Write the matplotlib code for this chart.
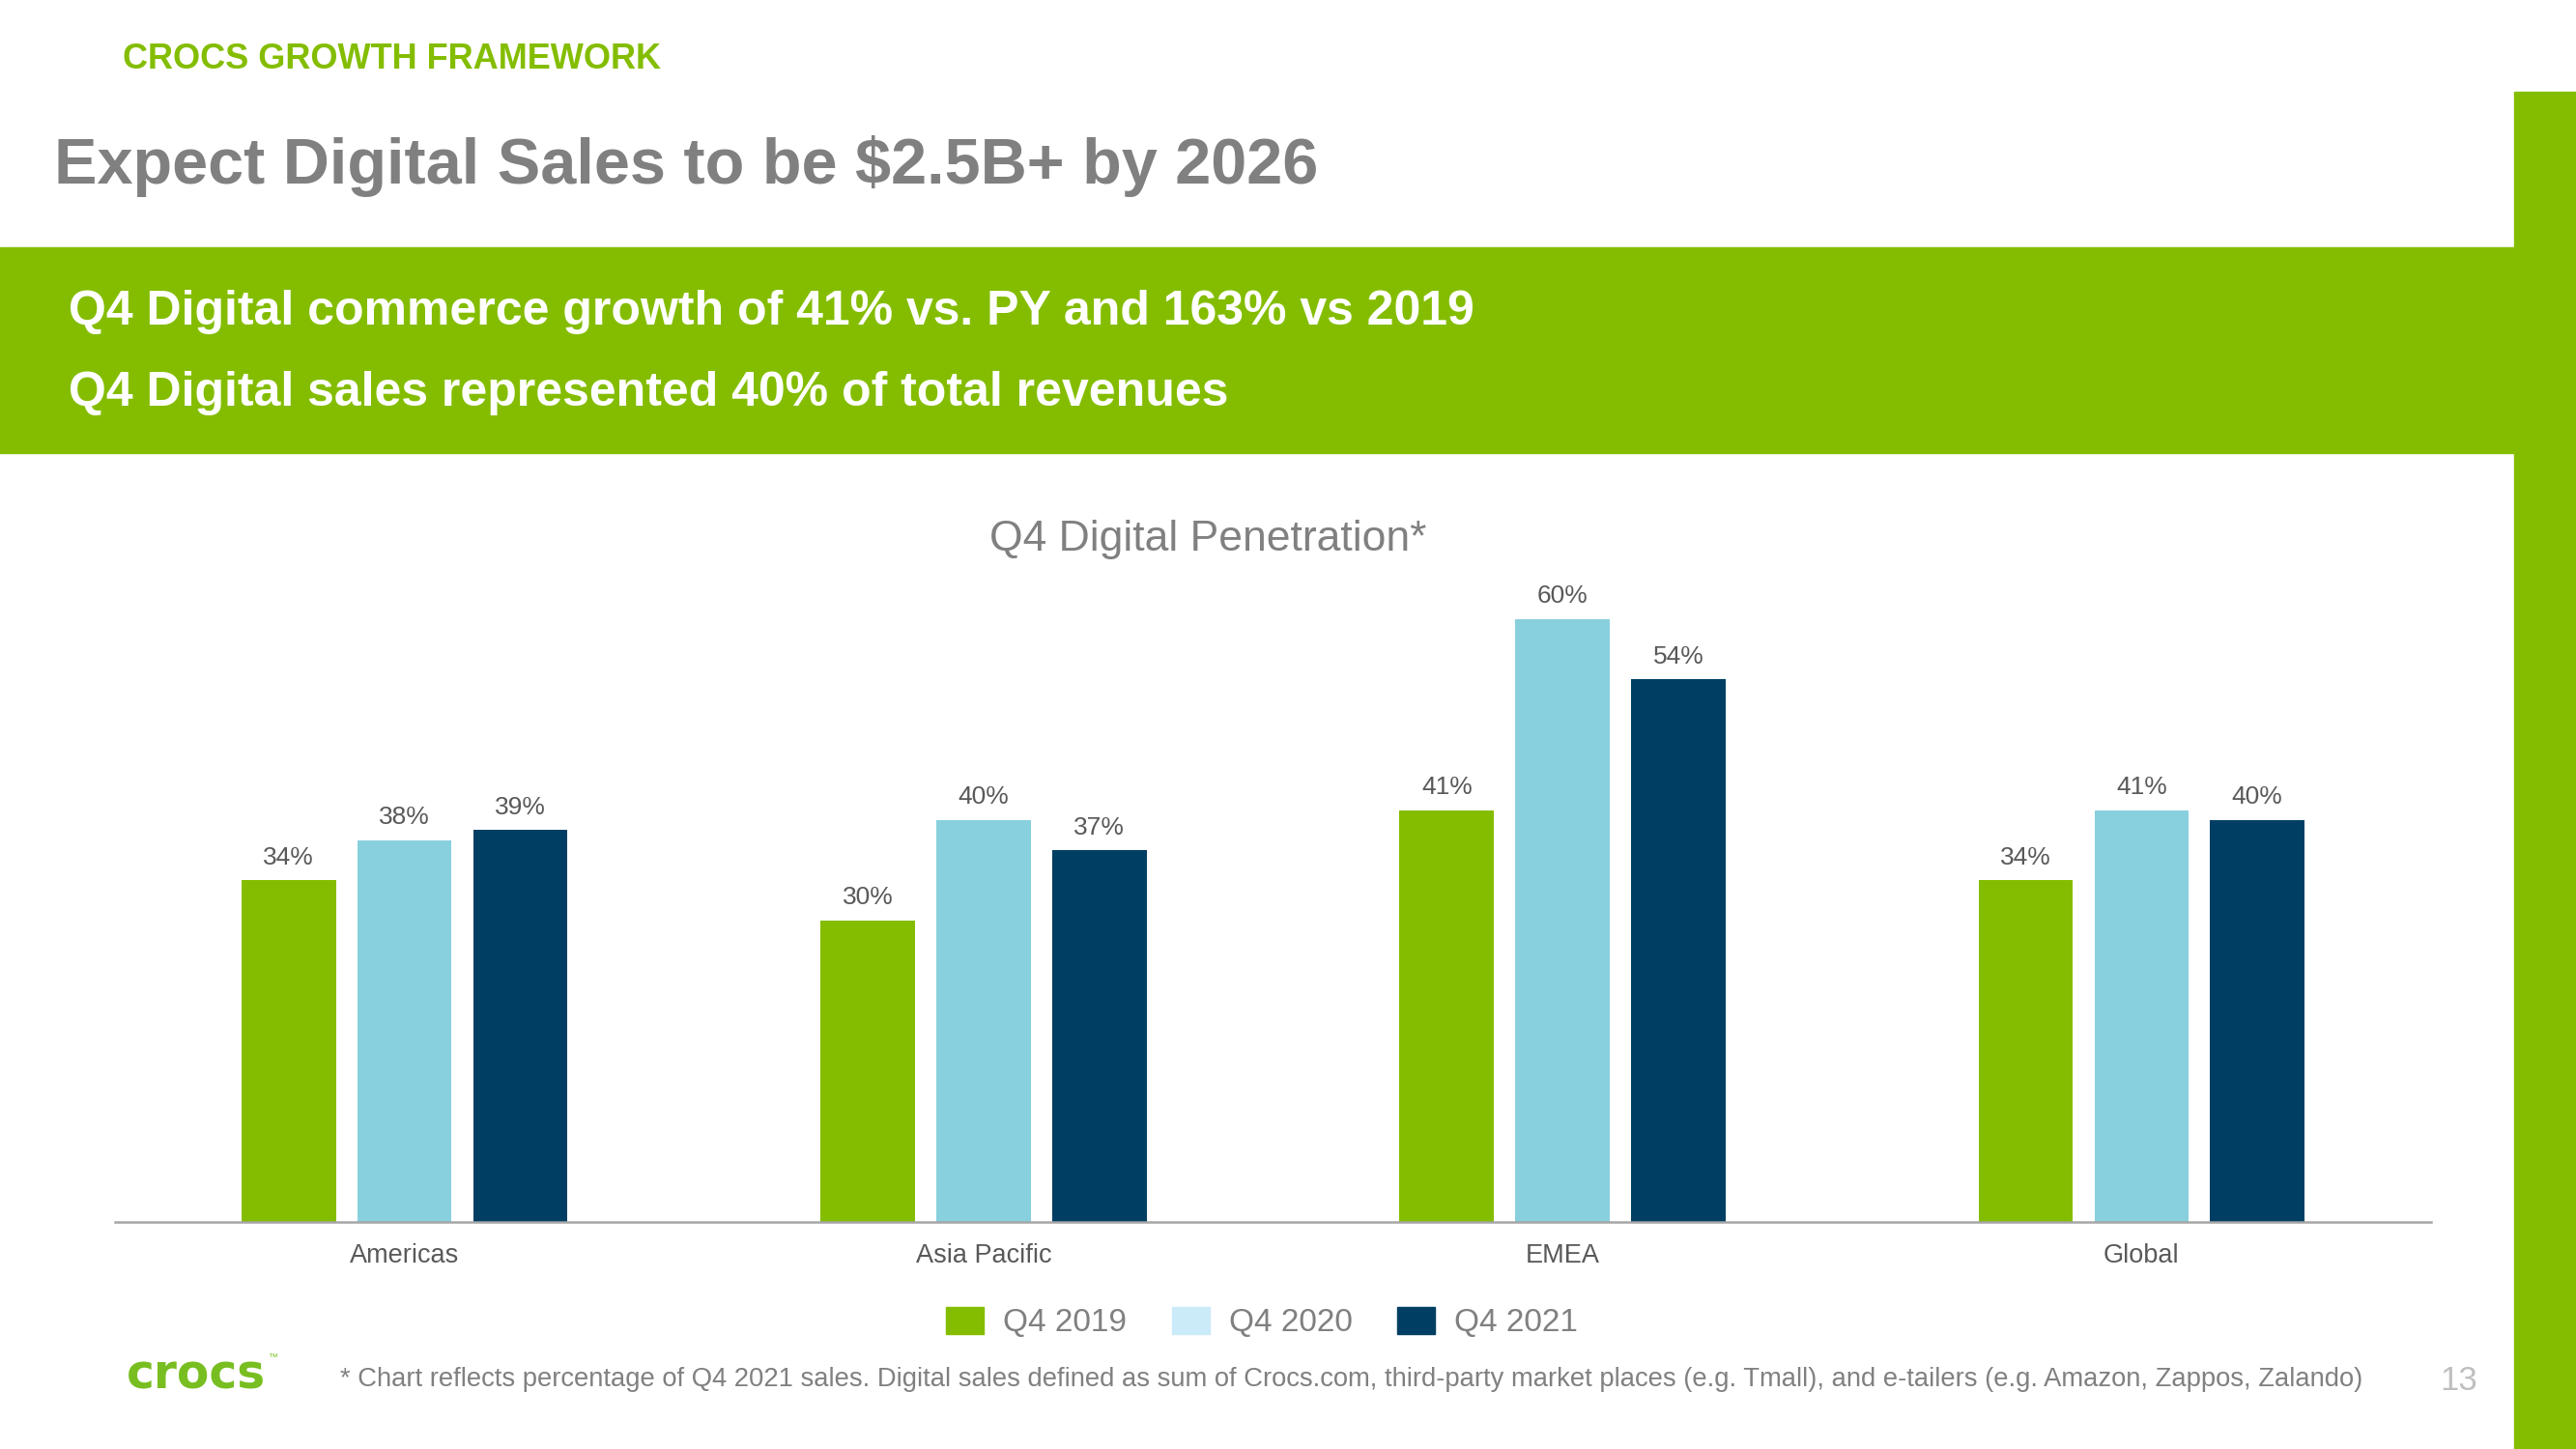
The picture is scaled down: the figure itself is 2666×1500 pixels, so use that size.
import matplotlib
matplotlib.use("Agg")
import matplotlib.pyplot as plt
from matplotlib.patches import Patch, Rectangle
import numpy as np

# ----- Data -----
regions = ["Americas", "Asia Pacific", "EMEA", "Global"]
series_names = ["Q4 2019", "Q4 2020", "Q4 2021"]
q4_2019 = [34, 30, 41, 34]
q4_2020 = [38, 40, 60, 41]
q4_2021 = [39, 37, 54, 40]

GREEN = "#84BD00"
LIGHT_BLUE = "#88D0DE"
LEGEND_BLUE = "#CCEBF9"
NAVY = "#003F63"
GRAY = "#808080"

W, H = 2666, 1500
plt.rcParams["font.family"] = ["Liberation Sans", "DejaVu Sans"]

fig = plt.figure(figsize=(W / 100, H / 100), dpi=100)
fig.patch.set_facecolor("white")


def fx(px):
    return px / W


def fy(py):
    return 1 - py / H


# ----- Slide decorations -----
fig.patches.append(Rectangle((0, fy(469)), fx(2602), (469 - 256) / H,
                             transform=fig.transFigure, color=GREEN, zorder=0))
fig.patches.append(Rectangle((fx(2602), 0), 1 - fx(2602), fy(95),
                             transform=fig.transFigure, color=GREEN, zorder=0))

fig.text(fx(127), fy(71), "CROCS GROWTH FRAMEWORK", color=GREEN,
         fontsize=26, fontweight="bold", va="baseline")
fig.text(fx(56), fy(190), "Expect Digital Sales to be $2.5B+ by 2026", color=GRAY,
         fontsize=48, fontweight="bold", va="baseline")
fig.text(fx(71), fy(336), "Q4 Digital commerce growth of 41% vs. PY and 163% vs 2019",
         color="white", fontsize=36, fontweight="bold", va="baseline")
fig.text(fx(71), fy(420), "Q4 Digital sales represented 40% of total revenues",
         color="white", fontsize=36, fontweight="bold", va="baseline")
fig.text(fx(1250), fy(570), "Q4 Digital Penetration*", color=GRAY,
         fontsize=32, ha="center", va="baseline")

# ----- Chart -----
ax = fig.add_axes([fx(119), fy(1265), fx(2516) - fx(119), 676 / H])
x = np.arange(len(regions))
step, width = 0.2, 0.163
for i, (vals, col) in enumerate(zip([q4_2019, q4_2020, q4_2021],
                                    [GREEN, LIGHT_BLUE, NAVY])):
    bars = ax.bar(x + (i - 1) * step, vals, width=width, color=col, zorder=2)
    for b, v in zip(bars, vals):
        ax.annotate(f"{v}%", (b.get_x() + b.get_width() / 2, v),
                    xytext=(0, 17), textcoords="offset points",
                    ha="center", va="center", fontsize=19, color="#595959")

ax.set_xlim(-0.5, 3.5)
ax.set_ylim(0, 65)
ax.set_yticks([])
ax.set_xticks(x)
ax.set_xticklabels(regions, fontsize=19.5, color="#595959")
ax.tick_params(axis="x", length=0, pad=16)
for s in ["top", "right", "left"]:
    ax.spines[s].set_visible(False)
ax.spines["bottom"].set_color("#A6A6A6")
ax.spines["bottom"].set_linewidth(1.8)

handles = [Patch(color=c) for c in [GREEN, LEGEND_BLUE, NAVY]]
leg = fig.legend(handles, series_names, loc="center", bbox_to_anchor=(fx(1306), fy(1369)),
                 ncol=3, frameon=False, fontsize=24, handlelength=1.17, handleheight=0.9,
                 handletextpad=0.6, columnspacing=1.4)
for t in leg.get_texts():
    t.set_color(GRAY)

# ----- Footer -----
fig.text(fx(131), fy(1438), "crocs", color="#78BE20", fontsize=35,
         fontweight="bold", family="DejaVu Sans", va="baseline")
fig.text(fx(277), fy(1408), "\u2122", color="#78BE20", fontsize=7, va="baseline")
fig.text(fx(352), fy(1435),
         "* Chart reflects percentage of Q4 2021 sales. Digital sales defined as sum of Crocs.com, "
         "third-party market places (e.g. Tmall), and e-tailers (e.g. Amazon, Zappos, Zalando)",
         color=GRAY, fontsize=19.7, va="baseline")
fig.text(fx(2545), fy(1439), "13", color="#BFBFBF", fontsize=25, ha="center", va="baseline")

fig.savefig("out.png", dpi=100)
